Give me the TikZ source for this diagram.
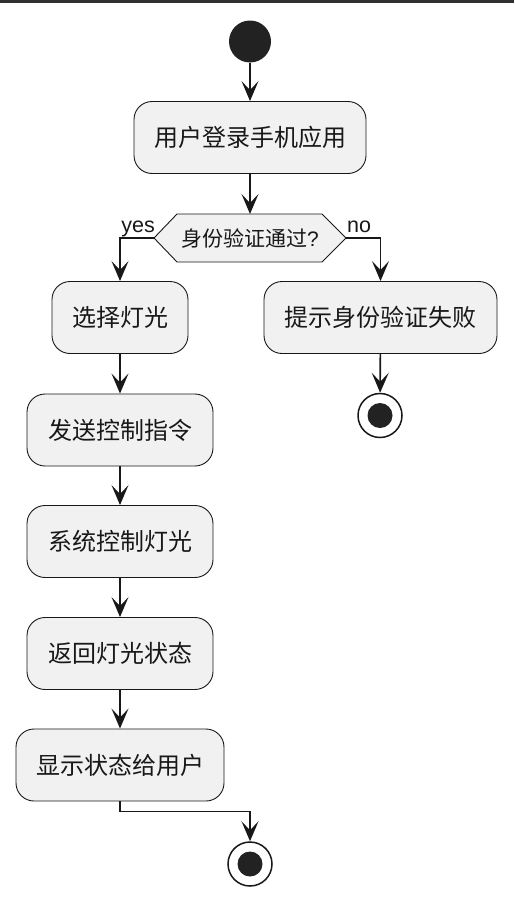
\documentclass[tikz,border=0pt]{standalone}
\usepackage{fontspec}
\setmainfont{Liberation Sans}
\newfontfamily\cjk{Noto Sans CJK SC}
\usetikzlibrary{arrows.meta}
\definecolor{boxfill}{HTML}{F1F1F1}
\definecolor{ink}{HTML}{181818}
\definecolor{dot}{HTML}{222222}
\begin{document}
\begin{tikzpicture}[x=1pt,y=-1pt,
  act/.style={draw=ink, line width=0.9pt, fill=boxfill, rounded corners=18pt,
    minimum height=72pt, inner sep=0pt, font=\cjk\fontsize{24}{27}\selectfont, text=ink},
  arr/.style={draw=ink, line width=1.6pt, -{Stealth[length=20pt,width=17pt,inset=9pt]}},
  startnode/.style={circle, fill=dot, minimum size=42pt, inner sep=0pt},
  endnode/.style={circle, draw=ink, fill=white, line width=1.5pt, minimum size=44pt, inner sep=0pt,
    path picture={\fill[dot] (path picture bounding box.center) circle (12.5pt);}},
  lbl/.style={font=\fontsize{21.5}{23}\selectfont, text=ink, inner sep=0pt}
]
\useasboundingbox (0,0) rectangle (514,902);
\fill[ink!90] (0,0) rectangle (514,2.5);

\node[startnode] (start) at (250,41.5) {};
\node[act, minimum width=232pt] (b1) at (250,137.5) {用户登录手机应用};

% decision hexagon
\coordinate (dl) at (154,238);
\coordinate (dr) at (346,238);
\coordinate (dt) at (250,214);
\draw[draw=ink, line width=0.9pt, fill=boxfill] (dl) -- (177,214) -- (322,214) -- (dr) -- (322,262) -- (177,262) -- cycle;
\node[font=\cjk\fontsize{21}{24}\selectfont, text=ink, inner sep=0pt] (d) at (250,239) {身份验证通过{\rmfamily ?}};
\node[lbl, anchor=base east] (yes) at (155,232) {yes};
\node[lbl, anchor=base west] (no) at (347,232) {no};

\node[act, minimum width=136pt] (b2) at (120,317.5) {选择灯光};
\node[act, minimum width=233pt] (f1) at (380.5,317.5) {提示身份验证失败};
\node[endnode] (e1) at (380,415.5) {};

\node[act, minimum width=186pt] (b3) at (120,430) {发送控制指令};
\node[act, minimum width=186pt] (b4) at (120,541.5) {系统控制灯光};
\node[act, minimum width=186pt] (b5) at (120,653.5) {返回灯光状态};
\node[act, minimum width=208pt] (b6) at (120,765) {显示状态给用户};
\node[endnode] (e2) at (250,864) {};

\draw[arr] (start) -- (b1);
\draw[arr] (b1) -- (dt);
\draw[arr] (dl) -| (b2.north);
\draw[arr] (dr) -| (f1.north);
\draw[arr] (f1) -- (e1);
\draw[arr] (b2) -- (b3);
\draw[arr] (b3) -- (b4);
\draw[arr] (b4) -- (b5);
\draw[arr] (b5) -- (b6);
\draw[arr] (b6.south) -- ++(0,10) -| (e2.north);
\end{tikzpicture}
\end{document}
